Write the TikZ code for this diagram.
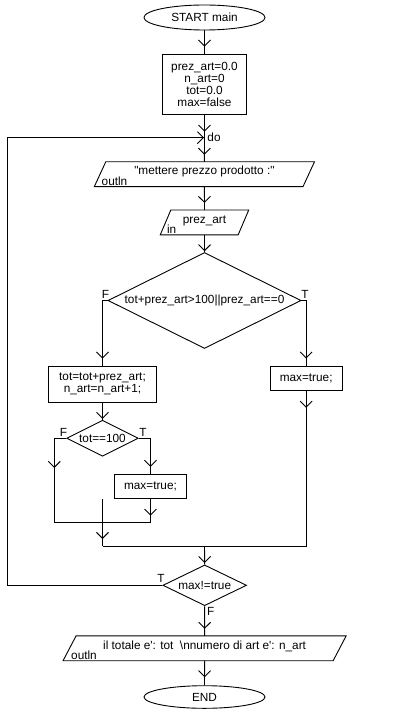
\documentclass[tikz,border=0pt]{standalone}
\usepackage{fontspec}
\setmainfont{Liberation Sans}[Ligatures=TeXOff]
\usetikzlibrary{shapes.geometric,arrows.meta,decorations.markings,calc}
\begin{document}
\begin{tikzpicture}[x=1pt,y=-1pt,line width=0.9pt,
  every node/.style={font=\fontsize{11.8}{12}\selectfont,inner sep=0pt},
  term/.style={ellipse,draw,minimum width=121pt,minimum height=#1},
  proc/.style={rectangle,draw,align=center},
  io/.style={rectangle,minimum height=24pt},
  dec/.style={diamond,draw},
  lab/.style={anchor=base west},
  varr/.style={postaction={decorate},decoration={markings,
     mark=at position #1 with {\arrow{Straight Barb[length=6pt,width=12pt,line width=0.9pt]}}}}
]
\useasboundingbox (0,0) rectangle (408,714);

% nodes
\node[term=25pt] (start) at (204.5,17.5) {START main};
\node[proc,minimum width=84.4pt,minimum height=60.3pt] (init) at (204.5,84.2)
  {prez\_art=0.0\\n\_art=0\\tot=0.0\\max=false};
\coordinate (do) at (204.5,137.7);
\node[lab] (dolab) at (207,141.7) {do};

\node[io,minimum width=207.8pt,
  label={[name=p1txt,yshift=2.5pt]center:"mettere prezzo prodotto :"},
  label={[name=p1kw,anchor=base west,xshift=1.2pt,yshift=1.3pt]south west:outln}] (p1) at (204.4,174.2) {};
\draw ($(p1.north west)+(5.75,0)$) -- ($(p1.north east)+(5.75,0)$) -- ($(p1.south east)+(-5.75,0)$) -- ($(p1.south west)+(-5.75,0)$) -- cycle;

\node[io,minimum width=77pt,
  label={[name=p2txt,yshift=1.5pt]center:prez\_art},
  label={[name=p2kw,anchor=base west,xshift=1pt,yshift=1.6pt]south west:in}] (p2) at (204.5,222.4) {};
\draw ($(p2.north west)+(5.3,0)$) -- ($(p2.north east)+(5.3,0)$) -- ($(p2.south east)+(-5.3,0)$) -- ($(p2.south west)+(-5.3,0)$) -- cycle;

\node[dec,minimum width=193pt,minimum height=96pt,
  label={[name=c1txt]center:tot+prez\_art>100||prez\_art==0}] (c1) at (204.5,300.5) {};
\node[lab] (c1f) at (101.5,298.3) {F};
\node[lab] (c1t) at (301,298.3) {T};

\node[proc,minimum width=108.4pt,minimum height=36.3pt] (b1) at (102.5,384.15)
  {tot=tot+prez\_art;\\n\_art=n\_art+1;};
\node[proc,minimum width=72.3pt,minimum height=24.3pt] (b2) at (306.15,378.15) {max=true;};

\node[dec,minimum width=71.6pt,minimum height=36pt,
  label={[name=c2txt]center:tot==100}] (c2) at (102.5,438.2) {};
\node[lab] (c2f) at (59.3,436) {F};
\node[lab] (c2t) at (139,436) {T};

\node[proc,minimum width=72.4pt,minimum height=24pt] (b3) at (150.5,486.3) {max=true;};

\coordinate (j1l) at (54.3,522.3);
\coordinate (j1r) at (b3.south |- j1l);
\coordinate (j1) at (c2.south |- b3.south);
\coordinate (j2l) at (102.5,546);
\coordinate (j2r) at (b2.south |- j2l);
\coordinate (j2) at (204.5,546);

\node[dec,minimum width=83.7pt,minimum height=40.7pt,
  label={[name=c3txt]center:max!=true}] (c3) at (204.7,585.3) {};
\node[lab] (c3t) at (157,582.7) {T};
\node[lab] (c3f) at (206.7,615.7) {F};
\coordinate (lp) at (7,585.3);

\node[io,minimum width=269.2pt,
  label={[name=p3txt,yshift=1.6pt]center:il totale e': tot~ \textbackslash nnumero di art e': n\_art},
  label={[name=p3kw,anchor=base west,xshift=1.2pt,yshift=1.6pt]south west:outln}] (p3) at (204.6,648.3) {};
\draw ($(p3.north west)+(6.5,0)$) -- ($(p3.north east)+(6.5,0)$) -- ($(p3.south east)+(-6.5,0)$) -- ($(p3.south west)+(-6.5,0)$) -- cycle;

\node[term=22.6pt] (end) at (204.5,697) {END};

% connectors
\draw[varr=-7pt] (start) -- (init);
\draw[varr=-6pt] (init) -- (do);
\draw[varr=-7pt] (do) -- (p1.north);
\draw[varr=-7pt] (p1.south) -- (p2.north);
\draw[varr=-0.8pt] (p2.south) -- (c1.north);
\draw[varr=-7pt] (c1.west) -| (b1.north);
\draw[varr=-7pt] (c1.east) -| (b2.north);
\draw[varr=-0.8pt] (b1.south) -- (c2.north);
\draw[varr=-7pt] (c2.east) -| (b3.north);
\draw[varr=41.7pt] (c2.west) -| (j1l) -- (j1r);
\draw[varr=-6.6pt] (b3.south) -- (j1r);
\draw[varr=-7pt] (j1) -- (j2l);
\draw[varr=17pt] (b2.south) -- (j2r) -- (j2l);
\draw[varr=-1.5pt] (j2) -- (c3.north);
\draw[varr=-0.5pt] (c3.west) -- (lp) |- (do);
\draw[varr=-7pt] (c3.south) -- (p3.north);
\draw[varr=-8pt] (p3.south) -- (end.north);
\end{tikzpicture}
\end{document}
